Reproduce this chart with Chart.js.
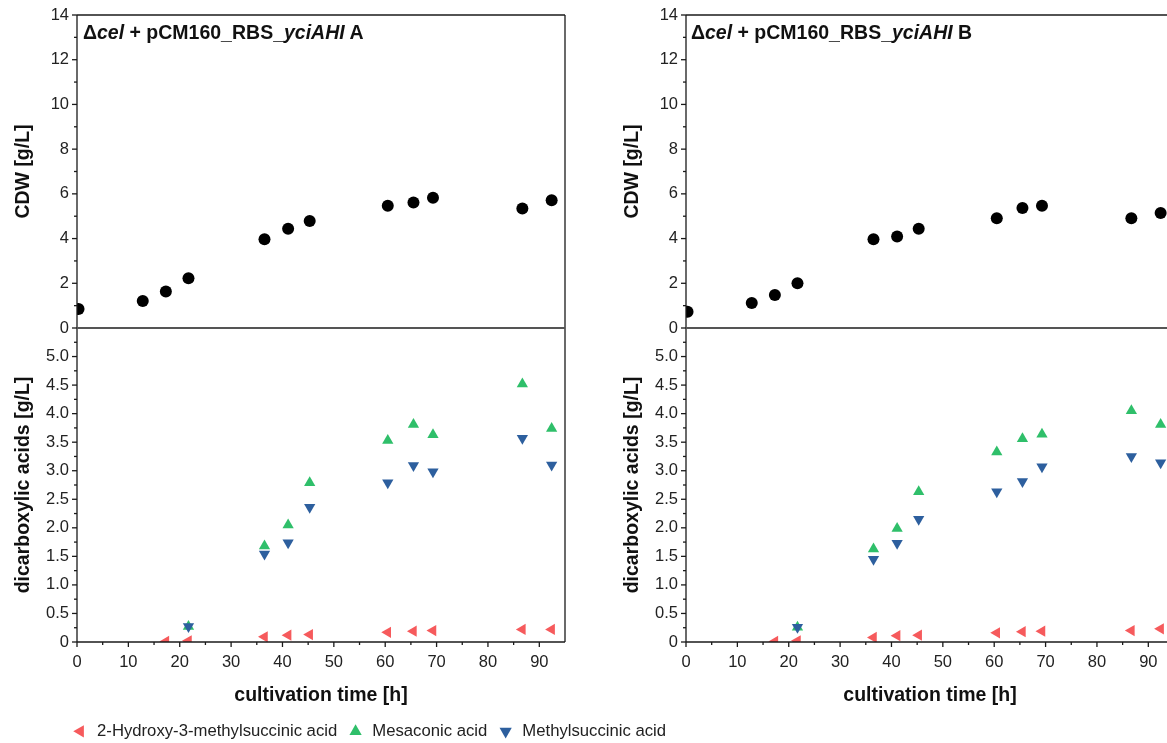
<!DOCTYPE html>
<html>
<head>
<meta charset="utf-8">
<script src="https://cdn.jsdelivr.net/npm/chart.js@4.4.0/dist/chart.umd.min.js"></script>
<style>
  body { margin: 0; width: 1167px; height: 743px; overflow: hidden; background: #fff; position: relative; font-family: 'Liberation Sans', Arial, sans-serif; }
  canvas { position: absolute; }
  .tag { position: absolute; font-weight: bold; font-size: 19.5px; line-height: 23px; color: #111; white-space: nowrap; }
</style>
</head>
<body>
<canvas id="cdwA" width="580" height="349" style="left:0px;top:-3px"></canvas>
<canvas id="acidA" width="580" height="397" style="left:0px;top:310px"></canvas>
<canvas id="cdwB" width="580" height="349" style="left:609px;top:-3px"></canvas>
<canvas id="acidB" width="580" height="397" style="left:609px;top:310px"></canvas>
<canvas id="legend" width="700" height="90" style="left:62px;top:713px"></canvas>
<div class="tag" style="left:83px;top:21px">&Delta;<i>cel</i> + pCM160_RBS_<i>yciAHI</i> A</div>
<div class="tag" style="left:691px;top:21px">&Delta;<i>cel</i> + pCM160_RBS_<i>yciAHI</i> B</div>
<script>
// sampling times [h]
const hours = [0.3, 12.8, 17.3, 21.7, 36.5, 41.1, 45.3, 60.5, 65.5, 69.3, 86.7, 92.4]

// culture A
const cdwA = [0.85, 1.21, 1.63, 2.22, 3.97, 4.44, 4.79, 5.47, 5.61, 5.83, 5.35, 5.71]
const hydroxyA = [0.01, 0.02, 0.09, 0.12, 0.13, 0.17, 0.19, 0.20, 0.22, 0.22]   // from 17 h
const mesaconicA = [0.27, 1.68, 2.05, 2.79, 3.53, 3.81, 3.63, 4.52, 3.74]      // from 21 h
const methylA = [0.27, 1.54, 1.74, 2.36, 2.79, 3.09, 2.98, 3.57, 3.10]

// culture B
const cdwB = [0.73, 1.12, 1.48, 2.00, 3.97, 4.09, 4.44, 4.91, 5.37, 5.47, 4.91, 5.14]
const hydroxyB = [0.01, 0.02, 0.08, 0.11, 0.12, 0.16, 0.18, 0.19, 0.20, 0.23]
const mesaconicB = [0.26, 1.63, 1.99, 2.63, 3.33, 3.56, 3.64, 4.05, 3.81]
const methylB = [0.26, 1.45, 1.73, 2.15, 2.63, 2.81, 3.07, 3.25, 3.14]

const acidNames = ['2-Hydroxy-3-methylsuccinic acid', 'Mesaconic acid', 'Methylsuccinic acid']
const timeTicks = [0, 10, 20, 30, 40, 50, 60, 70, 80, 90]
const cdwTicks = [0, 2, 4, 6, 8, 10, 12, 14]
const acidTicks = [0, 0.5, 1.0, 1.5, 2.0, 2.5, 3.0, 3.5, 4.0, 4.5, 5.0]

Chart.defaults.font.family = "'Liberation Sans', Arial, sans-serif"
Chart.defaults.color = '#222'

const tickFont = { size: 16.5 }
const titleFont = { size: 19.5, weight: 'bold' }

function pts(xs, ys) {
  return ys.map((y, i) => ({ x: xs[i], y: y }))
}

function marker(label, color, rot, data, order) {
  return {
    label: label,
    data: data,
    order: order,
    backgroundColor: color,
    pointBackgroundColor: color,
    pointStyle: 'triangle',
    rotation: rot,
    pointRotation: rot,
    pointRadius: 6.5,
    pointBorderWidth: 0,
    borderWidth: 0
  }
}

function acidSets(hyd, mes, met) {
  return [
    marker(acidNames[0], '#f65a5c', -90, pts(hours.slice(2), hyd), 2),
    marker(acidNames[1], '#2fbf6a', 0, pts(hours.slice(3), mes), 1),
    marker(acidNames[2], '#2d5f9e', 180, pts(hours.slice(3), met), 0)
  ]
}

// frame, zero line and major/minor tick marks
const frame = {
  id: 'frame',
  afterDraw(chart, args, o) {
    const { ctx, chartArea: a, scales } = chart
    const line = (x1, y1, x2, y2) => { ctx.beginPath(); ctx.moveTo(x1, y1); ctx.lineTo(x2, y2); ctx.stroke() }
    ctx.save()
    ctx.strokeStyle = '#1a1a1a'
    ctx.lineWidth = 1.3
    const y = scales.y
    for (let i = 0; ; i++) {
      const v = y.min + i * o.yMinor
      if (v > y.max + 1e-9) break
      if (o.skipYMax && Math.abs(v - y.max) < 1e-9) continue
      const major = Math.abs(v / o.yMajor - Math.round(v / o.yMajor)) < 1e-6
      const py = y.getPixelForValue(v)
      line(a.left - (major ? 5 : 3), py, a.left, py)
    }
    if (o.xMinor) {
      const x = scales.x
      for (let i = 0; ; i++) {
        const v = x.min + i * o.xMinor
        if (v > x.max - 1e-9) break
        const major = v % o.xMajor === 0
        const px = x.getPixelForValue(v)
        line(px, a.bottom, px, a.bottom + (major ? 5 : 3))
      }
    }
    line(a.left, a.top, a.left, a.bottom)
    line(a.right, a.top, a.right, a.bottom)
    ctx.strokeStyle = o.topColor
    ctx.lineWidth = o.topWidth
    line(a.left, a.top, a.right, a.top)
    ctx.strokeStyle = o.bottomColor
    ctx.lineWidth = o.bottomWidth
    line(a.left, a.bottom, a.right, a.bottom)
    ctx.restore()
  }
}

function cdwChart(id, cdw) {
  new Chart(document.getElementById(id), {
    type: 'scatter',
    data: {
      datasets: [{
        label: 'CDW',
        data: pts(hours, cdw),
        backgroundColor: '#000',
        pointBackgroundColor: '#000',
        pointRadius: 6,
        pointBorderWidth: 0
      }]
    },
    options: {
      responsive: false,
      animation: false,
      layout: { padding: { top: 18, bottom: 18, right: 15, left: 0 } },
      scales: {
        x: { display: false, min: 0, max: 95 },
        y: {
          min: 0, max: 14,
          afterFit: s => { s.width = 77 },
          afterBuildTicks: s => { s.ticks = cdwTicks.map(v => ({ value: v })) },
          grid: { display: false, drawTicks: false },
          border: { display: false },
          ticks: { padding: 8, font: tickFont, autoSkip: false },
          title: { display: true, text: 'CDW [g/L]', font: titleFont, color: '#111', padding: { top: 12 } }
        }
      },
      plugins: {
        legend: { display: false },
        tooltip: { enabled: false },
        frame: { yMinor: 1, yMajor: 2, topColor: '#1a1a1a', topWidth: 1.3, bottomColor: '#555', bottomWidth: 2 }
      }
    },
    plugins: [frame]
  })
}

function acidChart(id, hyd, mes, met) {
  new Chart(document.getElementById(id), {
    type: 'scatter',
    data: { datasets: acidSets(hyd, mes, met) },
    options: {
      responsive: false,
      animation: false,
      layout: { padding: { top: 18, bottom: 0, right: 15, left: 0 } },
      scales: {
        x: {
          min: 0, max: 95,
          afterFit: s => { s.height = 65 },
          afterBuildTicks: s => { s.ticks = timeTicks.map(v => ({ value: v })) },
          grid: { display: false, drawTicks: false },
          border: { display: false },
          ticks: { padding: 11, font: tickFont, maxRotation: 0, autoSkip: false },
          title: { display: true, text: 'cultivation time [h]', font: titleFont, color: '#111', padding: { top: 0, bottom: 0 } }
        },
        y: {
          min: 0, max: 5.5,
          afterFit: s => { s.width = 77 },
          afterBuildTicks: s => { s.ticks = acidTicks.map(v => ({ value: v })) },
          grid: { display: false, drawTicks: false },
          border: { display: false },
          ticks: { padding: 8, font: tickFont, autoSkip: false, callback: v => v === 0 ? '0' : v.toFixed(1) },
          title: { display: true, text: 'dicarboxylic acids [g/L]', font: titleFont, color: '#111', padding: { top: 12 } }
        }
      },
      plugins: {
        legend: { display: false },
        tooltip: { enabled: false },
        frame: { yMinor: 0.25, yMajor: 0.5, skipYMax: true, xMinor: 5, xMajor: 10, topColor: '#555', topWidth: 2, bottomColor: '#1a1a1a', bottomWidth: 1.3 }
      }
    },
    plugins: [frame]
  })
}

cdwChart('cdwA', cdwA)
acidChart('acidA', hydroxyA, mesaconicA, methylA)
cdwChart('cdwB', cdwB)
acidChart('acidB', hydroxyB, mesaconicB, methylB)

// shared legend
new Chart(document.getElementById('legend'), {
  type: 'scatter',
  data: { datasets: acidSets([], [], []) },
  options: {
    responsive: false,
    animation: false,
    scales: { x: { display: false }, y: { display: false } },
    plugins: {
      tooltip: { enabled: false },
      legend: {
        position: 'top',
        align: 'start',
        labels: {
          usePointStyle: true, boxHeight: 10, padding: 10, font: { size: 16.7 }, color: '#222',
          sort: (a, b) => a.datasetIndex - b.datasetIndex
        }
      }
    }
  }
})
</script>
</body>
</html>
